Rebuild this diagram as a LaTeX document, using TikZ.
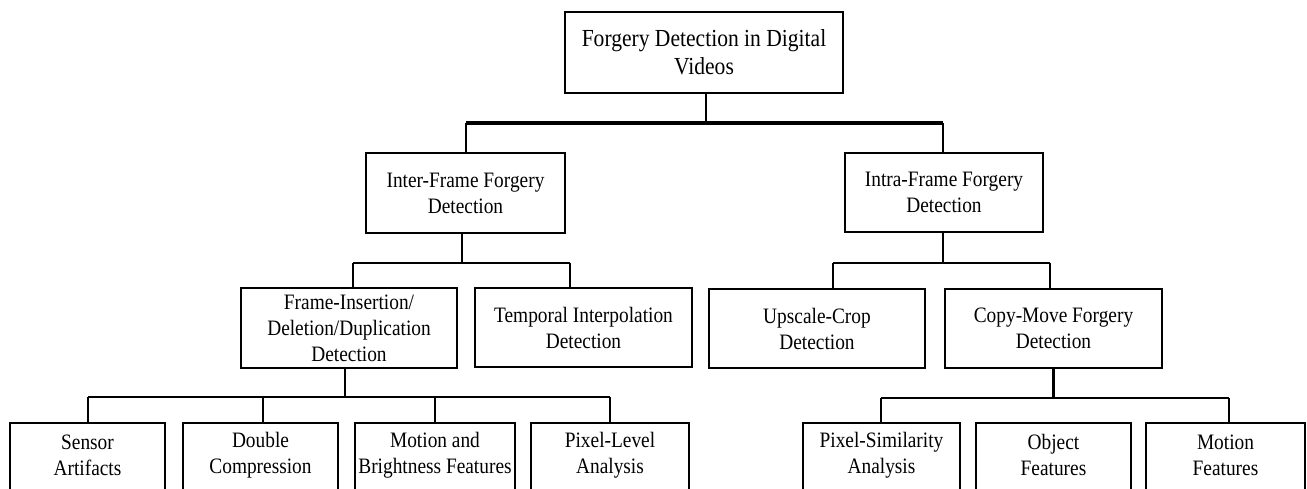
\documentclass[tikz,border=0pt]{standalone}
\usepackage{fontspec}
\setmainfont{Liberation Serif}[FakeStretch=0.88]
\begin{document}
\begin{tikzpicture}[x=1pt,y=-1pt,
  box/.style={draw=black, line width=2.2pt, fill=white, inner sep=0pt,
    align=center, font=\fontsize{22}{26}\selectfont},
  rootbox/.style={box, line width=1.8pt, font=\fontsize{24.5}{28}\selectfont},
  leaf/.style={draw=black, line width=2.2pt, fill=white, inner sep=0pt,
    anchor=north, minimum height=90pt},
  txt/.style={inner sep=0pt, align=center, font=\fontsize{22}{26}\selectfont},
  bus/.style={line width=1.7pt},
  stem/.style={line width=2.4pt},
  trunk/.style={line width=3.6pt},
]
\path[use as bounding box, clip] (0,0) rectangle (1307,488);
\fill[white] (0,0) rectangle (1307,488);

% root
\node[rootbox, minimum width=278pt, minimum height=81pt] (root) at (704,52.5)
  {Forgery Detection in Digital\\Videos};

% second level
\node[box, minimum width=199pt, minimum height=80pt] (inter) at (465.5,193)
  {Inter-Frame Forgery\\Detection};
\node[box, minimum width=198pt, minimum height=79pt] (intra) at (944,192.5)
  {Intra-Frame Forgery\\Detection};

% third level
\node[box, minimum width=216pt, minimum height=80pt] (fid) at (349,328)
  {Frame-Insertion/\\Deletion/Duplication\\Detection};
\node[box, minimum width=217pt, minimum height=79pt] (tid) at (583.5,327.5)
  {Temporal Interpolation\\Detection};
\node[box, minimum width=216pt, minimum height=79pt] (ucd) at (817,328.5)
  {Upscale-Crop\\Detection};
\node[box, minimum width=217pt, minimum height=79pt] (cmd) at (1053.5,328.5)
  {Copy-Move Forgery\\Detection};

% leaves
\node[leaf, minimum width=155pt] (sa) at (87.5,422) {};
\node[leaf, minimum width=155pt] (dc) at (260.5,422) {};
\node[leaf, minimum width=160pt] (mb) at (435,422) {};
\node[leaf, minimum width=158pt] (pl) at (610,422) {};
\node[leaf, minimum width=157pt] (ps) at (881.5,422) {};
\node[leaf, minimum width=155pt] (of) at (1053.5,422) {};
\node[leaf, minimum width=159pt] (mf) at (1225.5,422) {};

\node[txt] at ([yshift=-33]sa.north) {Sensor\\Artifacts};
\node[txt] at ([yshift=-33]dc.north) {Double\\Compression};
\node[txt] at ([yshift=-33]mb.north) {Motion and\\Brightness Features};
\node[txt] at ([yshift=-33]pl.north) {Pixel-Level\\Analysis};
\node[txt] at ([yshift=-33]ps.north) {Pixel-Similarity\\Analysis};
\node[txt] at ([yshift=-33]of.north) {Object\\Features};
\node[txt] at ([yshift=-33]mf.north) {Motion\\Features};

% bus coordinates
\coordinate (t0) at (706,123);
\coordinate (tl) at (466,123);
\coordinate (tr) at (943,123);
\coordinate (al) at (353,263);
\coordinate (ar) at (570,263);
\coordinate (bl) at (833,263);
\coordinate (br) at (1050,263);
\coordinate (cl) at (88,397);
\coordinate (cr) at (610,397);
\coordinate (dl) at (881,398);
\coordinate (dr) at (1229,398);

% root to second level
\draw[bus] ([xshift=2pt]root.south) -- (t0);
\draw[trunk] (tl) -- (tr);
\draw[bus] (tl) -- (tl |- inter.north);
\draw[bus] (tr) -- (tr |- intra.north);

% second to third level
\draw[stem] ([xshift=-3.5pt]inter.south) -- ([xshift=-3.5pt]inter.south |- al);
\draw[bus] (al) -- (ar);
\draw[bus] (al) -- (al |- fid.north);
\draw[bus] (ar) -- (ar |- tid.north);
\draw[stem] ([xshift=-1pt]intra.south) -- ([xshift=-1pt]intra.south |- bl);
\draw[bus] (bl) -- (br);
\draw[bus] (bl) -- (bl |- ucd.north);
\draw[bus] (br) -- (br |- cmd.north);

% third level to leaves
\draw[bus] ([xshift=-4pt]fid.south) -- ([xshift=-4pt]fid.south |- cl);
\draw[bus] (cl) -- (cr);
\draw[bus] (cl) -- (cl |- sa.north);
\draw[bus] (263,397) -- (263,397 |- dc.north);
\draw[bus] (435,397) -- (435,397 |- mb.north);
\draw[bus] (cr) -- (cr |- pl.north);
\draw[stem] (cmd.south) -- (cmd.south |- dl);
\draw[bus] (dl) -- (dr);
\draw[bus] (dl) -- (dl |- ps.north);
\draw[bus] (dr) -- (dr |- mf.north);
\end{tikzpicture}
\end{document}
